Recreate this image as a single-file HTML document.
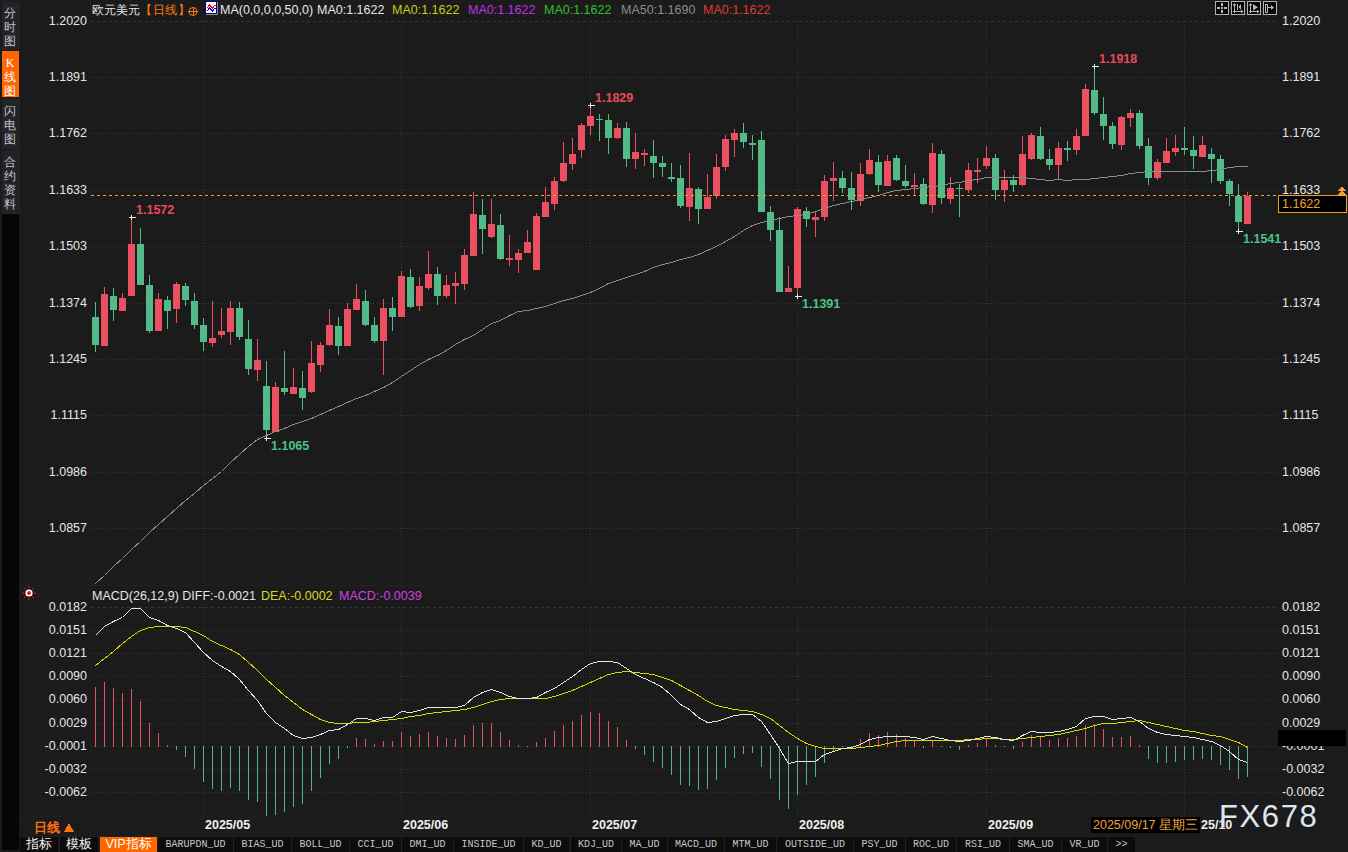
<!DOCTYPE html><html><head><meta charset="utf-8"><style>
html,body{margin:0;padding:0;}
body{width:1348px;height:852px;overflow:hidden;background:#1b1b1b;position:relative;font-family:"Liberation Sans",sans-serif;}
svg{position:absolute;left:0;top:0;}
text{font-family:"Liberation Sans",sans-serif;}
.side{position:absolute;left:2px;width:18px;padding-right:2px;color:#c4c4c4;font-size:12px;line-height:14px;text-align:center;}
.tab{position:absolute;top:836px;height:16px;background:#0c0c0c;color:#c8c8c8;font-family:"Liberation Mono",monospace;font-size:10px;line-height:16px;text-align:center;}
</style></head><body>

<div style="position:absolute;left:2px;top:0;width:18px;height:214px;background:#1c1d21"></div>
<div class="side" style="top:2px;height:47px;background:#22242a;padding-top:4px;box-sizing:border-box">分<br>时<br>图</div>
<div class="side" style="top:51px;height:46px;background:#ff6600;color:#fff;padding-top:5px;box-sizing:border-box;width:17px;padding-right:1px"><span style="font-family:Liberation Serif,serif">K</span><br>线<br>图</div>
<div class="side" style="top:99px;height:50px;background:#22242a;padding-top:5px;box-sizing:border-box">闪<br>电<br>图</div>
<div class="side" style="top:151px;height:63px;background:#22242a;padding-top:4px;box-sizing:border-box">合<br>约<br>资<br>料</div>
<div style="position:absolute;left:2px;top:214px;width:17px;height:636px;background:#060606"></div>
<svg width="1348" height="852" viewBox="0 0 1348 852" shape-rendering="crispEdges">
<rect x="90" y="0" width="1" height="836" fill="#202020"/>

<rect x="20" y="585" width="1328" height="1" fill="#212121"/>
<rect x="20" y="816" width="1328" height="1" fill="#1f1f1f"/>
<line x1="91" y1="21.5" x2="1279" y2="21.5" stroke="#363636" stroke-width="1" stroke-dasharray="3 3"/>
<line x1="91" y1="77.5" x2="1279" y2="77.5" stroke="#363636" stroke-width="1" stroke-dasharray="1 2"/>
<line x1="91" y1="133.5" x2="1279" y2="133.5" stroke="#363636" stroke-width="1" stroke-dasharray="1 2"/>
<line x1="91" y1="190.5" x2="1279" y2="190.5" stroke="#363636" stroke-width="1" stroke-dasharray="1 2"/>
<line x1="91" y1="246.5" x2="1279" y2="246.5" stroke="#363636" stroke-width="1" stroke-dasharray="1 2"/>
<line x1="91" y1="303.5" x2="1279" y2="303.5" stroke="#363636" stroke-width="1" stroke-dasharray="1 2"/>
<line x1="91" y1="359.5" x2="1279" y2="359.5" stroke="#363636" stroke-width="1" stroke-dasharray="1 2"/>
<line x1="91" y1="415.5" x2="1279" y2="415.5" stroke="#363636" stroke-width="1" stroke-dasharray="1 2"/>
<line x1="91" y1="472.5" x2="1279" y2="472.5" stroke="#363636" stroke-width="1" stroke-dasharray="1 2"/>
<line x1="91" y1="528.5" x2="1279" y2="528.5" stroke="#363636" stroke-width="1" stroke-dasharray="1 2"/>
<line x1="203.5" y1="21" x2="203.5" y2="584" stroke="#363636" stroke-width="1" stroke-dasharray="1 2"/>
<line x1="203.5" y1="607" x2="203.5" y2="815" stroke="#363636" stroke-width="1" stroke-dasharray="1 2"/>
<line x1="401.5" y1="21" x2="401.5" y2="584" stroke="#363636" stroke-width="1" stroke-dasharray="1 2"/>
<line x1="401.5" y1="607" x2="401.5" y2="815" stroke="#363636" stroke-width="1" stroke-dasharray="1 2"/>
<line x1="590.5" y1="21" x2="590.5" y2="584" stroke="#363636" stroke-width="1" stroke-dasharray="1 2"/>
<line x1="590.5" y1="607" x2="590.5" y2="815" stroke="#363636" stroke-width="1" stroke-dasharray="1 2"/>
<line x1="797.5" y1="21" x2="797.5" y2="584" stroke="#363636" stroke-width="1" stroke-dasharray="1 2"/>
<line x1="797.5" y1="607" x2="797.5" y2="815" stroke="#363636" stroke-width="1" stroke-dasharray="1 2"/>
<line x1="986.5" y1="21" x2="986.5" y2="584" stroke="#363636" stroke-width="1" stroke-dasharray="1 2"/>
<line x1="986.5" y1="607" x2="986.5" y2="815" stroke="#363636" stroke-width="1" stroke-dasharray="1 2"/>
<line x1="1184.5" y1="21" x2="1184.5" y2="584" stroke="#363636" stroke-width="1" stroke-dasharray="1 2"/>
<line x1="1184.5" y1="607" x2="1184.5" y2="815" stroke="#363636" stroke-width="1" stroke-dasharray="1 2"/>
<line x1="91" y1="607.5" x2="1279" y2="607.5" stroke="#363636" stroke-width="1" stroke-dasharray="3 3"/>
<line x1="91" y1="630.5" x2="1279" y2="630.5" stroke="#363636" stroke-width="1" stroke-dasharray="1 2"/>
<line x1="91" y1="653.5" x2="1279" y2="653.5" stroke="#363636" stroke-width="1" stroke-dasharray="1 2"/>
<line x1="91" y1="676.5" x2="1279" y2="676.5" stroke="#363636" stroke-width="1" stroke-dasharray="1 2"/>
<line x1="91" y1="699.5" x2="1279" y2="699.5" stroke="#363636" stroke-width="1" stroke-dasharray="1 2"/>
<line x1="91" y1="723.5" x2="1279" y2="723.5" stroke="#363636" stroke-width="1" stroke-dasharray="1 2"/>
<line x1="91" y1="746.5" x2="1279" y2="746.5" stroke="#363636" stroke-width="1" stroke-dasharray="1 2"/>
<line x1="91" y1="769.5" x2="1279" y2="769.5" stroke="#363636" stroke-width="1" stroke-dasharray="1 2"/>
<line x1="91" y1="792.5" x2="1279" y2="792.5" stroke="#363636" stroke-width="1" stroke-dasharray="1 2"/>
<rect x="95" y="302" width="1" height="50" fill="#52bb88"/>
<rect x="92" y="317" width="7" height="28" fill="#52bb88"/>
<rect x="104" y="287" width="1" height="59" fill="#ea5060"/>
<rect x="101" y="294" width="7" height="52" fill="#ea5060"/>
<rect x="113" y="288" width="1" height="33" fill="#52bb88"/>
<rect x="110" y="296" width="7" height="14" fill="#52bb88"/>
<rect x="122" y="293" width="1" height="18" fill="#ea5060"/>
<rect x="119" y="298" width="7" height="13" fill="#ea5060"/>
<rect x="131" y="217" width="1" height="79" fill="#ea5060"/>
<rect x="128" y="244" width="7" height="52" fill="#ea5060"/>
<rect x="140" y="228" width="1" height="57" fill="#52bb88"/>
<rect x="137" y="244" width="7" height="41" fill="#52bb88"/>
<rect x="149" y="275" width="1" height="58" fill="#52bb88"/>
<rect x="146" y="285" width="7" height="46" fill="#52bb88"/>
<rect x="158" y="293" width="1" height="38" fill="#ea5060"/>
<rect x="155" y="299" width="7" height="32" fill="#ea5060"/>
<rect x="167" y="296" width="1" height="33" fill="#52bb88"/>
<rect x="164" y="300" width="7" height="11" fill="#52bb88"/>
<rect x="176" y="282" width="1" height="41" fill="#ea5060"/>
<rect x="173" y="284" width="7" height="25" fill="#ea5060"/>
<rect x="185" y="283" width="1" height="23" fill="#52bb88"/>
<rect x="182" y="286" width="7" height="14" fill="#52bb88"/>
<rect x="194" y="293" width="1" height="36" fill="#52bb88"/>
<rect x="191" y="301" width="7" height="24" fill="#52bb88"/>
<rect x="203" y="318" width="1" height="33" fill="#52bb88"/>
<rect x="200" y="325" width="7" height="17" fill="#52bb88"/>
<rect x="212" y="301" width="1" height="46" fill="#ea5060"/>
<rect x="209" y="338" width="7" height="5" fill="#ea5060"/>
<rect x="221" y="308" width="1" height="30" fill="#ea5060"/>
<rect x="218" y="331" width="7" height="4" fill="#ea5060"/>
<rect x="230" y="301" width="1" height="44" fill="#ea5060"/>
<rect x="227" y="308" width="7" height="24" fill="#ea5060"/>
<rect x="239" y="302" width="1" height="38" fill="#52bb88"/>
<rect x="236" y="308" width="7" height="29" fill="#52bb88"/>
<rect x="248" y="320" width="1" height="55" fill="#52bb88"/>
<rect x="245" y="339" width="7" height="30" fill="#52bb88"/>
<rect x="257" y="339" width="1" height="42" fill="#ea5060"/>
<rect x="254" y="360" width="7" height="10" fill="#ea5060"/>
<rect x="266" y="361" width="1" height="76" fill="#52bb88"/>
<rect x="263" y="386" width="7" height="44" fill="#52bb88"/>
<rect x="275" y="382" width="1" height="50" fill="#ea5060"/>
<rect x="272" y="387" width="7" height="45" fill="#ea5060"/>
<rect x="284" y="351" width="1" height="44" fill="#52bb88"/>
<rect x="281" y="388" width="7" height="4" fill="#52bb88"/>
<rect x="293" y="368" width="1" height="26" fill="#ea5060"/>
<rect x="290" y="387" width="7" height="7" fill="#ea5060"/>
<rect x="302" y="371" width="1" height="39" fill="#52bb88"/>
<rect x="299" y="388" width="7" height="10" fill="#52bb88"/>
<rect x="311" y="341" width="1" height="52" fill="#ea5060"/>
<rect x="308" y="363" width="7" height="29" fill="#ea5060"/>
<rect x="320" y="342" width="1" height="30" fill="#ea5060"/>
<rect x="317" y="345" width="7" height="20" fill="#ea5060"/>
<rect x="329" y="309" width="1" height="37" fill="#ea5060"/>
<rect x="326" y="325" width="7" height="20" fill="#ea5060"/>
<rect x="338" y="317" width="1" height="38" fill="#52bb88"/>
<rect x="335" y="326" width="7" height="20" fill="#52bb88"/>
<rect x="347" y="303" width="1" height="43" fill="#ea5060"/>
<rect x="344" y="309" width="7" height="37" fill="#ea5060"/>
<rect x="356" y="284" width="1" height="26" fill="#ea5060"/>
<rect x="353" y="299" width="7" height="11" fill="#ea5060"/>
<rect x="365" y="290" width="1" height="36" fill="#52bb88"/>
<rect x="362" y="301" width="7" height="24" fill="#52bb88"/>
<rect x="374" y="317" width="1" height="26" fill="#52bb88"/>
<rect x="371" y="325" width="7" height="16" fill="#52bb88"/>
<rect x="383" y="299" width="1" height="76" fill="#ea5060"/>
<rect x="380" y="308" width="7" height="33" fill="#ea5060"/>
<rect x="392" y="297" width="1" height="34" fill="#52bb88"/>
<rect x="389" y="308" width="7" height="9" fill="#52bb88"/>
<rect x="401" y="271" width="1" height="46" fill="#ea5060"/>
<rect x="398" y="276" width="7" height="41" fill="#ea5060"/>
<rect x="410" y="269" width="1" height="39" fill="#52bb88"/>
<rect x="407" y="277" width="7" height="30" fill="#52bb88"/>
<rect x="419" y="277" width="1" height="34" fill="#ea5060"/>
<rect x="416" y="286" width="7" height="20" fill="#ea5060"/>
<rect x="428" y="251" width="1" height="39" fill="#ea5060"/>
<rect x="425" y="274" width="7" height="14" fill="#ea5060"/>
<rect x="437" y="267" width="1" height="38" fill="#52bb88"/>
<rect x="434" y="274" width="7" height="22" fill="#52bb88"/>
<rect x="446" y="275" width="1" height="23" fill="#ea5060"/>
<rect x="443" y="285" width="7" height="11" fill="#ea5060"/>
<rect x="455" y="272" width="1" height="32" fill="#ea5060"/>
<rect x="452" y="283" width="7" height="3" fill="#ea5060"/>
<rect x="464" y="249" width="1" height="41" fill="#ea5060"/>
<rect x="461" y="255" width="7" height="29" fill="#ea5060"/>
<rect x="473" y="192" width="1" height="64" fill="#ea5060"/>
<rect x="470" y="214" width="7" height="42" fill="#ea5060"/>
<rect x="482" y="199" width="1" height="55" fill="#52bb88"/>
<rect x="479" y="215" width="7" height="14" fill="#52bb88"/>
<rect x="491" y="199" width="1" height="39" fill="#ea5060"/>
<rect x="488" y="224" width="7" height="13" fill="#ea5060"/>
<rect x="500" y="214" width="1" height="46" fill="#52bb88"/>
<rect x="497" y="225" width="7" height="34" fill="#52bb88"/>
<rect x="509" y="235" width="1" height="31" fill="#ea5060"/>
<rect x="506" y="258" width="7" height="2" fill="#ea5060"/>
<rect x="518" y="249" width="1" height="24" fill="#ea5060"/>
<rect x="515" y="253" width="7" height="7" fill="#ea5060"/>
<rect x="527" y="230" width="1" height="23" fill="#ea5060"/>
<rect x="524" y="242" width="7" height="11" fill="#ea5060"/>
<rect x="536" y="213" width="1" height="57" fill="#ea5060"/>
<rect x="533" y="216" width="7" height="54" fill="#ea5060"/>
<rect x="545" y="187" width="1" height="30" fill="#ea5060"/>
<rect x="542" y="202" width="7" height="15" fill="#ea5060"/>
<rect x="554" y="177" width="1" height="33" fill="#ea5060"/>
<rect x="551" y="181" width="7" height="23" fill="#ea5060"/>
<rect x="563" y="142" width="1" height="40" fill="#ea5060"/>
<rect x="560" y="163" width="7" height="18" fill="#ea5060"/>
<rect x="572" y="138" width="1" height="32" fill="#ea5060"/>
<rect x="569" y="154" width="7" height="10" fill="#ea5060"/>
<rect x="581" y="123" width="1" height="35" fill="#ea5060"/>
<rect x="578" y="125" width="7" height="25" fill="#ea5060"/>
<rect x="590" y="104" width="1" height="31" fill="#ea5060"/>
<rect x="587" y="116" width="7" height="10" fill="#ea5060"/>
<rect x="599" y="114" width="1" height="27" fill="#52bb88"/>
<rect x="596" y="119" width="7" height="1" fill="#52bb88"/>
<rect x="608" y="114" width="1" height="40" fill="#52bb88"/>
<rect x="605" y="120" width="7" height="18" fill="#52bb88"/>
<rect x="617" y="123" width="1" height="16" fill="#ea5060"/>
<rect x="614" y="128" width="7" height="10" fill="#ea5060"/>
<rect x="626" y="122" width="1" height="45" fill="#52bb88"/>
<rect x="623" y="128" width="7" height="31" fill="#52bb88"/>
<rect x="635" y="133" width="1" height="36" fill="#ea5060"/>
<rect x="632" y="152" width="7" height="7" fill="#ea5060"/>
<rect x="644" y="149" width="1" height="17" fill="#ea5060"/>
<rect x="641" y="153" width="7" height="2" fill="#ea5060"/>
<rect x="653" y="140" width="1" height="38" fill="#52bb88"/>
<rect x="650" y="156" width="7" height="7" fill="#52bb88"/>
<rect x="662" y="156" width="1" height="21" fill="#52bb88"/>
<rect x="659" y="163" width="7" height="4" fill="#52bb88"/>
<rect x="671" y="163" width="1" height="19" fill="#52bb88"/>
<rect x="668" y="177" width="7" height="2" fill="#52bb88"/>
<rect x="680" y="165" width="1" height="43" fill="#52bb88"/>
<rect x="677" y="178" width="7" height="28" fill="#52bb88"/>
<rect x="689" y="153" width="1" height="68" fill="#ea5060"/>
<rect x="686" y="188" width="7" height="19" fill="#ea5060"/>
<rect x="698" y="187" width="1" height="37" fill="#52bb88"/>
<rect x="695" y="189" width="7" height="20" fill="#52bb88"/>
<rect x="707" y="174" width="1" height="35" fill="#ea5060"/>
<rect x="704" y="197" width="7" height="12" fill="#ea5060"/>
<rect x="716" y="154" width="1" height="45" fill="#ea5060"/>
<rect x="713" y="167" width="7" height="29" fill="#ea5060"/>
<rect x="725" y="135" width="1" height="36" fill="#ea5060"/>
<rect x="722" y="139" width="7" height="28" fill="#ea5060"/>
<rect x="734" y="129" width="1" height="28" fill="#ea5060"/>
<rect x="731" y="133" width="7" height="7" fill="#ea5060"/>
<rect x="743" y="123" width="1" height="25" fill="#52bb88"/>
<rect x="740" y="133" width="7" height="9" fill="#52bb88"/>
<rect x="752" y="135" width="1" height="25" fill="#52bb88"/>
<rect x="749" y="143" width="7" height="2" fill="#52bb88"/>
<rect x="761" y="131" width="1" height="81" fill="#52bb88"/>
<rect x="758" y="140" width="7" height="72" fill="#52bb88"/>
<rect x="770" y="206" width="1" height="35" fill="#52bb88"/>
<rect x="767" y="212" width="7" height="18" fill="#52bb88"/>
<rect x="779" y="217" width="1" height="75" fill="#52bb88"/>
<rect x="776" y="230" width="7" height="62" fill="#52bb88"/>
<rect x="788" y="266" width="1" height="26" fill="#ea5060"/>
<rect x="785" y="288" width="7" height="4" fill="#ea5060"/>
<rect x="797" y="207" width="1" height="89" fill="#ea5060"/>
<rect x="794" y="209" width="7" height="79" fill="#ea5060"/>
<rect x="806" y="207" width="1" height="20" fill="#52bb88"/>
<rect x="803" y="211" width="7" height="8" fill="#52bb88"/>
<rect x="815" y="212" width="1" height="25" fill="#ea5060"/>
<rect x="812" y="217" width="7" height="3" fill="#ea5060"/>
<rect x="824" y="175" width="1" height="46" fill="#ea5060"/>
<rect x="821" y="181" width="7" height="36" fill="#ea5060"/>
<rect x="833" y="162" width="1" height="39" fill="#ea5060"/>
<rect x="830" y="178" width="7" height="3" fill="#ea5060"/>
<rect x="842" y="171" width="1" height="22" fill="#52bb88"/>
<rect x="839" y="178" width="7" height="10" fill="#52bb88"/>
<rect x="851" y="172" width="1" height="38" fill="#52bb88"/>
<rect x="848" y="188" width="7" height="12" fill="#52bb88"/>
<rect x="860" y="163" width="1" height="43" fill="#ea5060"/>
<rect x="857" y="174" width="7" height="27" fill="#ea5060"/>
<rect x="869" y="149" width="1" height="26" fill="#ea5060"/>
<rect x="866" y="160" width="7" height="14" fill="#ea5060"/>
<rect x="878" y="155" width="1" height="37" fill="#52bb88"/>
<rect x="875" y="162" width="7" height="23" fill="#52bb88"/>
<rect x="887" y="155" width="1" height="31" fill="#ea5060"/>
<rect x="884" y="161" width="7" height="25" fill="#ea5060"/>
<rect x="896" y="155" width="1" height="26" fill="#52bb88"/>
<rect x="893" y="158" width="7" height="22" fill="#52bb88"/>
<rect x="905" y="165" width="1" height="23" fill="#52bb88"/>
<rect x="902" y="181" width="7" height="5" fill="#52bb88"/>
<rect x="914" y="173" width="1" height="23" fill="#ea5060"/>
<rect x="911" y="185" width="7" height="2" fill="#ea5060"/>
<rect x="923" y="178" width="1" height="27" fill="#52bb88"/>
<rect x="920" y="184" width="7" height="20" fill="#52bb88"/>
<rect x="932" y="143" width="1" height="70" fill="#ea5060"/>
<rect x="929" y="153" width="7" height="52" fill="#ea5060"/>
<rect x="941" y="150" width="1" height="54" fill="#52bb88"/>
<rect x="938" y="154" width="7" height="44" fill="#52bb88"/>
<rect x="950" y="177" width="1" height="27" fill="#ea5060"/>
<rect x="947" y="188" width="7" height="11" fill="#ea5060"/>
<rect x="959" y="184" width="1" height="33" fill="#52bb88"/>
<rect x="956" y="188" width="7" height="1" fill="#52bb88"/>
<rect x="968" y="163" width="1" height="30" fill="#ea5060"/>
<rect x="965" y="170" width="7" height="20" fill="#ea5060"/>
<rect x="977" y="158" width="1" height="25" fill="#ea5060"/>
<rect x="974" y="170" width="7" height="2" fill="#ea5060"/>
<rect x="986" y="146" width="1" height="23" fill="#ea5060"/>
<rect x="983" y="158" width="7" height="8" fill="#ea5060"/>
<rect x="995" y="154" width="1" height="46" fill="#52bb88"/>
<rect x="992" y="158" width="7" height="32" fill="#52bb88"/>
<rect x="1004" y="170" width="1" height="32" fill="#ea5060"/>
<rect x="1001" y="180" width="7" height="10" fill="#ea5060"/>
<rect x="1013" y="175" width="1" height="17" fill="#52bb88"/>
<rect x="1010" y="180" width="7" height="5" fill="#52bb88"/>
<rect x="1022" y="136" width="1" height="50" fill="#ea5060"/>
<rect x="1019" y="154" width="7" height="31" fill="#ea5060"/>
<rect x="1031" y="133" width="1" height="27" fill="#ea5060"/>
<rect x="1028" y="135" width="7" height="24" fill="#ea5060"/>
<rect x="1040" y="127" width="1" height="33" fill="#52bb88"/>
<rect x="1037" y="136" width="7" height="23" fill="#52bb88"/>
<rect x="1049" y="149" width="1" height="21" fill="#52bb88"/>
<rect x="1046" y="159" width="7" height="6" fill="#52bb88"/>
<rect x="1058" y="142" width="1" height="38" fill="#ea5060"/>
<rect x="1055" y="148" width="7" height="17" fill="#ea5060"/>
<rect x="1067" y="141" width="1" height="20" fill="#52bb88"/>
<rect x="1064" y="148" width="7" height="2" fill="#52bb88"/>
<rect x="1076" y="129" width="1" height="26" fill="#ea5060"/>
<rect x="1073" y="136" width="7" height="14" fill="#ea5060"/>
<rect x="1085" y="84" width="1" height="52" fill="#ea5060"/>
<rect x="1082" y="89" width="7" height="47" fill="#ea5060"/>
<rect x="1094" y="66" width="1" height="49" fill="#52bb88"/>
<rect x="1091" y="90" width="7" height="23" fill="#52bb88"/>
<rect x="1103" y="97" width="1" height="43" fill="#52bb88"/>
<rect x="1100" y="114" width="7" height="12" fill="#52bb88"/>
<rect x="1112" y="122" width="1" height="27" fill="#52bb88"/>
<rect x="1109" y="126" width="7" height="18" fill="#52bb88"/>
<rect x="1121" y="116" width="1" height="34" fill="#ea5060"/>
<rect x="1118" y="117" width="7" height="28" fill="#ea5060"/>
<rect x="1130" y="109" width="1" height="18" fill="#ea5060"/>
<rect x="1127" y="113" width="7" height="5" fill="#ea5060"/>
<rect x="1139" y="110" width="1" height="39" fill="#52bb88"/>
<rect x="1136" y="113" width="7" height="33" fill="#52bb88"/>
<rect x="1148" y="138" width="1" height="47" fill="#52bb88"/>
<rect x="1145" y="146" width="7" height="32" fill="#52bb88"/>
<rect x="1157" y="159" width="1" height="21" fill="#ea5060"/>
<rect x="1154" y="162" width="7" height="16" fill="#ea5060"/>
<rect x="1166" y="138" width="1" height="25" fill="#ea5060"/>
<rect x="1163" y="151" width="7" height="12" fill="#ea5060"/>
<rect x="1175" y="135" width="1" height="21" fill="#ea5060"/>
<rect x="1172" y="148" width="7" height="4" fill="#ea5060"/>
<rect x="1184" y="127" width="1" height="28" fill="#52bb88"/>
<rect x="1181" y="148" width="7" height="2" fill="#52bb88"/>
<rect x="1193" y="136" width="1" height="33" fill="#52bb88"/>
<rect x="1190" y="150" width="7" height="6" fill="#52bb88"/>
<rect x="1202" y="136" width="1" height="21" fill="#ea5060"/>
<rect x="1199" y="145" width="7" height="12" fill="#ea5060"/>
<rect x="1211" y="148" width="1" height="35" fill="#52bb88"/>
<rect x="1208" y="154" width="7" height="5" fill="#52bb88"/>
<rect x="1220" y="155" width="1" height="29" fill="#52bb88"/>
<rect x="1217" y="159" width="7" height="22" fill="#52bb88"/>
<rect x="1229" y="179" width="1" height="27" fill="#52bb88"/>
<rect x="1226" y="181" width="7" height="13" fill="#52bb88"/>
<rect x="1238" y="184" width="1" height="47" fill="#52bb88"/>
<rect x="1235" y="196" width="7" height="26" fill="#52bb88"/>
<rect x="1247" y="192" width="1" height="32" fill="#ea5060"/>
<rect x="1244" y="196" width="7" height="28" fill="#ea5060"/>
<polyline points="95.5,583.5 104.5,575.5 113.5,566.5 122.5,558.5 131.5,549.5 140.5,541.5 149.5,532.5 158.5,524.5 167.5,516.5 176.5,508.5 185.5,500.5 194.5,493.5 203.5,485.5 212.5,478.5 221.5,471.5 230.5,462.5 239.5,454.5 248.5,446.5 257.5,439.5 266.5,435.5 275.5,431.5 284.5,428.5 293.5,424.5 302.5,421.5 311.5,418.5 320.5,414.5 329.5,410.5 338.5,406.5 347.5,402.5 356.5,398.5 365.5,395.5 374.5,391.5 383.5,387.5 392.5,382.5 401.5,376.5 410.5,370.5 419.5,364.5 428.5,359.5 437.5,355.5 446.5,350.5 455.5,344.5 464.5,339.5 473.5,335.5 482.5,329.5 491.5,323.5 500.5,320.5 509.5,315.5 518.5,311.5 527.5,310.5 536.5,308.5 545.5,306.5 554.5,303.5 563.5,300.5 572.5,298.5 581.5,295.5 590.5,292.5 599.5,288.5 608.5,283.5 617.5,280.5 626.5,277.5 635.5,274.5 644.5,271.5 653.5,267.5 662.5,264.5 671.5,262.5 680.5,259.5 689.5,257.5 698.5,254.5 707.5,250.5 716.5,246.5 725.5,241.5 734.5,236.5 743.5,230.5 752.5,225.5 761.5,222.5 770.5,220.5 779.5,218.5 788.5,216.5 797.5,215.5 806.5,214.5 815.5,211.5 824.5,208.5 833.5,205.5 842.5,203.5 851.5,201.5 860.5,199.5 869.5,197.5 878.5,195.5 887.5,192.5 896.5,190.5 905.5,189.5 914.5,188.5 923.5,187.5 932.5,186.5 941.5,185.5 950.5,183.5 959.5,182.5 968.5,180.5 977.5,179.5 986.5,177.5 995.5,177.5 1004.5,177.5 1013.5,177.5 1022.5,177.5 1031.5,178.5 1040.5,179.5 1049.5,180.5 1058.5,179.5 1067.5,180.5 1076.5,179.5 1085.5,179.5 1094.5,178.5 1103.5,177.5 1112.5,176.5 1121.5,175.5 1130.5,173.5 1139.5,172.5 1148.5,171.5 1157.5,171.5 1166.5,171.5 1175.5,171.5 1184.5,171.5 1193.5,171.5 1202.5,171.5 1211.5,170.5 1220.5,169.5 1229.5,167.5 1238.5,166.5 1247.5,166.5" fill="none" stroke="#8c8c8c" stroke-width="1" shape-rendering="crispEdges"/>
<line x1="91" y1="195.5" x2="1278" y2="195.5" stroke="#f0a030" stroke-width="1" stroke-dasharray="3 3"/>
<rect x="129" y="217" width="7" height="1" fill="#eee"/>
<rect x="131" y="215" width="1" height="5" fill="#eee"/>
<text x="136" y="214" fill="#e84a5a" font-size="12.5" font-weight="bold">1.1572</text>
<rect x="588" y="105" width="7" height="1" fill="#eee"/>
<rect x="590" y="103" width="1" height="5" fill="#eee"/>
<text x="595" y="102" fill="#e84a5a" font-size="12.5" font-weight="bold">1.1829</text>
<rect x="1092" y="66" width="7" height="1" fill="#eee"/>
<rect x="1094" y="64" width="1" height="5" fill="#eee"/>
<text x="1099" y="63" fill="#e84a5a" font-size="12.5" font-weight="bold">1.1918</text>
<rect x="264" y="438" width="7" height="1" fill="#eee"/>
<rect x="266" y="436" width="1" height="5" fill="#eee"/>
<text x="271" y="450" fill="#4cc38a" font-size="12.5" font-weight="bold">1.1065</text>
<rect x="795" y="296" width="7" height="1" fill="#eee"/>
<rect x="797" y="294" width="1" height="5" fill="#eee"/>
<text x="802" y="308" fill="#4cc38a" font-size="12.5" font-weight="bold">1.1391</text>
<rect x="1236" y="231" width="7" height="1" fill="#eee"/>
<rect x="1238" y="229" width="1" height="5" fill="#eee"/>
<text x="1243" y="243" fill="#4cc38a" font-size="12.5" font-weight="bold">1.1541</text>
<rect x="95" y="687" width="1" height="60" fill="#e25363"/>
<rect x="104" y="682" width="1" height="65" fill="#e25363"/>
<rect x="113" y="688" width="1" height="59" fill="#e25363"/>
<rect x="122" y="693" width="1" height="54" fill="#e25363"/>
<rect x="131" y="689" width="1" height="58" fill="#e25363"/>
<rect x="140" y="701" width="1" height="46" fill="#e25363"/>
<rect x="149" y="723" width="1" height="24" fill="#e25363"/>
<rect x="158" y="733" width="1" height="14" fill="#e25363"/>
<rect x="167" y="745" width="1" height="2" fill="#e25363"/>
<rect x="176" y="746" width="1" height="4" fill="#4fb585"/>
<rect x="185" y="746" width="1" height="11" fill="#4fb585"/>
<rect x="194" y="746" width="1" height="23" fill="#4fb585"/>
<rect x="203" y="746" width="1" height="36" fill="#4fb585"/>
<rect x="212" y="746" width="1" height="43" fill="#4fb585"/>
<rect x="221" y="746" width="1" height="45" fill="#4fb585"/>
<rect x="230" y="746" width="1" height="42" fill="#4fb585"/>
<rect x="239" y="746" width="1" height="45" fill="#4fb585"/>
<rect x="248" y="746" width="1" height="54" fill="#4fb585"/>
<rect x="257" y="746" width="1" height="56" fill="#4fb585"/>
<rect x="266" y="746" width="1" height="70" fill="#4fb585"/>
<rect x="275" y="746" width="1" height="69" fill="#4fb585"/>
<rect x="284" y="746" width="1" height="66" fill="#4fb585"/>
<rect x="293" y="746" width="1" height="61" fill="#4fb585"/>
<rect x="302" y="746" width="1" height="58" fill="#4fb585"/>
<rect x="311" y="746" width="1" height="45" fill="#4fb585"/>
<rect x="320" y="746" width="1" height="32" fill="#4fb585"/>
<rect x="329" y="746" width="1" height="18" fill="#4fb585"/>
<rect x="338" y="746" width="1" height="13" fill="#4fb585"/>
<rect x="347" y="746" width="1" height="2" fill="#4fb585"/>
<rect x="356" y="738" width="1" height="9" fill="#e25363"/>
<rect x="365" y="739" width="1" height="8" fill="#e25363"/>
<rect x="374" y="744" width="1" height="3" fill="#e25363"/>
<rect x="383" y="741" width="1" height="6" fill="#e25363"/>
<rect x="392" y="741" width="1" height="6" fill="#e25363"/>
<rect x="401" y="732" width="1" height="15" fill="#e25363"/>
<rect x="410" y="736" width="1" height="11" fill="#e25363"/>
<rect x="419" y="734" width="1" height="13" fill="#e25363"/>
<rect x="428" y="732" width="1" height="15" fill="#e25363"/>
<rect x="437" y="736" width="1" height="11" fill="#e25363"/>
<rect x="446" y="738" width="1" height="9" fill="#e25363"/>
<rect x="455" y="739" width="1" height="8" fill="#e25363"/>
<rect x="464" y="735" width="1" height="12" fill="#e25363"/>
<rect x="473" y="725" width="1" height="22" fill="#e25363"/>
<rect x="482" y="723" width="1" height="24" fill="#e25363"/>
<rect x="491" y="723" width="1" height="24" fill="#e25363"/>
<rect x="500" y="732" width="1" height="15" fill="#e25363"/>
<rect x="509" y="740" width="1" height="7" fill="#e25363"/>
<rect x="518" y="745" width="1" height="2" fill="#e25363"/>
<rect x="527" y="746" width="1" height="1" fill="#4fb585"/>
<rect x="536" y="742" width="1" height="5" fill="#e25363"/>
<rect x="545" y="738" width="1" height="9" fill="#e25363"/>
<rect x="554" y="731" width="1" height="16" fill="#e25363"/>
<rect x="563" y="725" width="1" height="22" fill="#e25363"/>
<rect x="572" y="721" width="1" height="26" fill="#e25363"/>
<rect x="581" y="715" width="1" height="32" fill="#e25363"/>
<rect x="590" y="712" width="1" height="35" fill="#e25363"/>
<rect x="599" y="713" width="1" height="34" fill="#e25363"/>
<rect x="608" y="721" width="1" height="26" fill="#e25363"/>
<rect x="617" y="727" width="1" height="20" fill="#e25363"/>
<rect x="626" y="740" width="1" height="7" fill="#e25363"/>
<rect x="635" y="746" width="1" height="3" fill="#4fb585"/>
<rect x="644" y="746" width="1" height="9" fill="#4fb585"/>
<rect x="653" y="746" width="1" height="16" fill="#4fb585"/>
<rect x="662" y="746" width="1" height="22" fill="#4fb585"/>
<rect x="671" y="746" width="1" height="29" fill="#4fb585"/>
<rect x="680" y="746" width="1" height="39" fill="#4fb585"/>
<rect x="689" y="746" width="1" height="40" fill="#4fb585"/>
<rect x="698" y="746" width="1" height="44" fill="#4fb585"/>
<rect x="707" y="746" width="1" height="43" fill="#4fb585"/>
<rect x="716" y="746" width="1" height="34" fill="#4fb585"/>
<rect x="725" y="746" width="1" height="22" fill="#4fb585"/>
<rect x="734" y="746" width="1" height="12" fill="#4fb585"/>
<rect x="743" y="746" width="1" height="8" fill="#4fb585"/>
<rect x="752" y="746" width="1" height="7" fill="#4fb585"/>
<rect x="761" y="746" width="1" height="21" fill="#4fb585"/>
<rect x="770" y="746" width="1" height="33" fill="#4fb585"/>
<rect x="779" y="746" width="1" height="54" fill="#4fb585"/>
<rect x="788" y="746" width="1" height="63" fill="#4fb585"/>
<rect x="797" y="746" width="1" height="49" fill="#4fb585"/>
<rect x="806" y="746" width="1" height="39" fill="#4fb585"/>
<rect x="815" y="746" width="1" height="31" fill="#4fb585"/>
<rect x="824" y="746" width="1" height="17" fill="#4fb585"/>
<rect x="833" y="746" width="1" height="5" fill="#4fb585"/>
<rect x="842" y="746" width="1" height="1" fill="#4fb585"/>
<rect x="851" y="746" width="1" height="1" fill="#4fb585"/>
<rect x="860" y="739" width="1" height="8" fill="#e25363"/>
<rect x="869" y="733" width="1" height="14" fill="#e25363"/>
<rect x="878" y="735" width="1" height="12" fill="#e25363"/>
<rect x="887" y="732" width="1" height="15" fill="#e25363"/>
<rect x="896" y="734" width="1" height="13" fill="#e25363"/>
<rect x="905" y="738" width="1" height="9" fill="#e25363"/>
<rect x="914" y="741" width="1" height="6" fill="#e25363"/>
<rect x="923" y="746" width="1" height="2" fill="#4fb585"/>
<rect x="932" y="740" width="1" height="7" fill="#e25363"/>
<rect x="941" y="746" width="1" height="1" fill="#4fb585"/>
<rect x="950" y="746" width="1" height="2" fill="#4fb585"/>
<rect x="959" y="746" width="1" height="4" fill="#4fb585"/>
<rect x="968" y="745" width="1" height="2" fill="#e25363"/>
<rect x="977" y="743" width="1" height="4" fill="#e25363"/>
<rect x="986" y="738" width="1" height="9" fill="#e25363"/>
<rect x="995" y="745" width="1" height="2" fill="#e25363"/>
<rect x="1004" y="746" width="1" height="1" fill="#4fb585"/>
<rect x="1013" y="746" width="1" height="3" fill="#4fb585"/>
<rect x="1022" y="742" width="1" height="5" fill="#e25363"/>
<rect x="1031" y="735" width="1" height="12" fill="#e25363"/>
<rect x="1040" y="736" width="1" height="11" fill="#e25363"/>
<rect x="1049" y="740" width="1" height="7" fill="#e25363"/>
<rect x="1058" y="738" width="1" height="9" fill="#e25363"/>
<rect x="1067" y="738" width="1" height="9" fill="#e25363"/>
<rect x="1076" y="736" width="1" height="11" fill="#e25363"/>
<rect x="1085" y="725" width="1" height="22" fill="#e25363"/>
<rect x="1094" y="724" width="1" height="23" fill="#e25363"/>
<rect x="1103" y="729" width="1" height="18" fill="#e25363"/>
<rect x="1112" y="737" width="1" height="10" fill="#e25363"/>
<rect x="1121" y="737" width="1" height="10" fill="#e25363"/>
<rect x="1130" y="736" width="1" height="11" fill="#e25363"/>
<rect x="1139" y="745" width="1" height="2" fill="#e25363"/>
<rect x="1148" y="746" width="1" height="13" fill="#4fb585"/>
<rect x="1157" y="746" width="1" height="17" fill="#4fb585"/>
<rect x="1166" y="746" width="1" height="17" fill="#4fb585"/>
<rect x="1175" y="746" width="1" height="16" fill="#4fb585"/>
<rect x="1184" y="746" width="1" height="14" fill="#4fb585"/>
<rect x="1193" y="746" width="1" height="14" fill="#4fb585"/>
<rect x="1202" y="746" width="1" height="13" fill="#4fb585"/>
<rect x="1211" y="746" width="1" height="14" fill="#4fb585"/>
<rect x="1220" y="746" width="1" height="19" fill="#4fb585"/>
<rect x="1229" y="746" width="1" height="24" fill="#4fb585"/>
<rect x="1238" y="746" width="1" height="33" fill="#4fb585"/>
<rect x="1247" y="746" width="1" height="31" fill="#4fb585"/>
<polyline points="95.5,665.5 104.5,658.5 113.5,651.5 122.5,643.5 131.5,636.5 140.5,630.5 149.5,627.5 158.5,626.5 167.5,626.5 176.5,626.5 185.5,627.5 194.5,631.5 203.5,635.5 212.5,641.5 221.5,645.5 230.5,649.5 239.5,654.5 248.5,662.5 257.5,670.5 266.5,679.5 275.5,687.5 284.5,695.5 293.5,702.5 302.5,709.5 311.5,714.5 320.5,719.5 329.5,722.5 338.5,723.5 347.5,723.5 356.5,722.5 365.5,722.5 374.5,721.5 383.5,720.5 392.5,719.5 401.5,718.5 410.5,716.5 419.5,715.5 428.5,713.5 437.5,712.5 446.5,711.5 455.5,710.5 464.5,709.5 473.5,707.5 482.5,704.5 491.5,701.5 500.5,699.5 509.5,698.5 518.5,698.5 527.5,698.5 536.5,698.5 545.5,698.5 554.5,696.5 563.5,693.5 572.5,690.5 581.5,686.5 590.5,682.5 599.5,678.5 608.5,674.5 617.5,672.5 626.5,671.5 635.5,672.5 644.5,673.5 653.5,674.5 662.5,677.5 671.5,680.5 680.5,685.5 689.5,690.5 698.5,695.5 707.5,701.5 716.5,705.5 725.5,707.5 734.5,709.5 743.5,710.5 752.5,711.5 761.5,714.5 770.5,718.5 779.5,725.5 788.5,732.5 797.5,738.5 806.5,743.5 815.5,746.5 824.5,748.5 833.5,748.5 842.5,748.5 851.5,748.5 860.5,747.5 869.5,746.5 878.5,745.5 887.5,743.5 896.5,741.5 905.5,740.5 914.5,740.5 923.5,740.5 932.5,740.5 941.5,740.5 950.5,740.5 959.5,740.5 968.5,739.5 977.5,739.5 986.5,738.5 995.5,738.5 1004.5,739.5 1013.5,739.5 1022.5,738.5 1031.5,737.5 1040.5,736.5 1049.5,735.5 1058.5,734.5 1067.5,732.5 1076.5,730.5 1085.5,728.5 1094.5,725.5 1103.5,723.5 1112.5,723.5 1121.5,722.5 1130.5,721.5 1139.5,720.5 1148.5,722.5 1157.5,724.5 1166.5,726.5 1175.5,728.5 1184.5,730.5 1193.5,731.5 1202.5,733.5 1211.5,735.5 1220.5,736.5 1229.5,739.5 1238.5,742.5 1247.5,747.5" fill="none" stroke="#d8d800" stroke-width="1" shape-rendering="crispEdges"/>
<polyline points="95.5,635.5 104.5,626.5 113.5,621.5 122.5,617.5 131.5,608.5 140.5,608.5 149.5,617.5 158.5,620.5 167.5,625.5 176.5,628.5 185.5,632.5 194.5,642.5 203.5,652.5 212.5,660.5 221.5,666.5 230.5,671.5 239.5,679.5 248.5,690.5 257.5,700.5 266.5,713.5 275.5,722.5 284.5,728.5 293.5,735.5 302.5,738.5 311.5,737.5 320.5,734.5 329.5,730.5 338.5,729.5 347.5,724.5 356.5,718.5 365.5,718.5 374.5,720.5 383.5,717.5 392.5,717.5 401.5,711.5 410.5,712.5 419.5,710.5 428.5,707.5 437.5,707.5 446.5,707.5 455.5,707.5 464.5,705.5 473.5,697.5 482.5,692.5 491.5,689.5 500.5,692.5 509.5,696.5 518.5,698.5 527.5,698.5 536.5,697.5 545.5,692.5 554.5,688.5 563.5,682.5 572.5,676.5 581.5,669.5 590.5,663.5 599.5,661.5 608.5,661.5 617.5,662.5 626.5,668.5 635.5,674.5 644.5,678.5 653.5,682.5 662.5,687.5 671.5,695.5 680.5,704.5 689.5,709.5 698.5,717.5 707.5,722.5 716.5,721.5 725.5,718.5 734.5,715.5 743.5,714.5 752.5,714.5 761.5,721.5 770.5,734.5 779.5,748.5 788.5,763.5 797.5,761.5 806.5,761.5 815.5,761.5 824.5,754.5 833.5,751.5 842.5,748.5 851.5,747.5 860.5,744.5 869.5,739.5 878.5,737.5 887.5,736.5 896.5,736.5 905.5,736.5 914.5,737.5 923.5,739.5 932.5,736.5 941.5,738.5 950.5,740.5 959.5,741.5 968.5,740.5 977.5,738.5 986.5,736.5 995.5,737.5 1004.5,739.5 1013.5,740.5 1022.5,735.5 1031.5,731.5 1040.5,732.5 1049.5,732.5 1058.5,731.5 1067.5,729.5 1076.5,726.5 1085.5,718.5 1094.5,716.5 1103.5,716.5 1112.5,719.5 1121.5,718.5 1130.5,717.5 1139.5,721.5 1148.5,728.5 1157.5,732.5 1166.5,734.5 1175.5,735.5 1184.5,736.5 1193.5,737.5 1202.5,739.5 1211.5,741.5 1220.5,745.5 1229.5,751.5 1238.5,759.5 1247.5,762.5" fill="none" stroke="#e4e4e4" stroke-width="1" shape-rendering="crispEdges"/>
<text x="87" y="25" fill="#e6e6e6" font-size="12.5" text-anchor="end">1.2020</text>
<text x="1282" y="25" fill="#e6e6e6" font-size="12.5">1.2020</text>
<text x="87" y="81" fill="#e6e6e6" font-size="12.5" text-anchor="end">1.1891</text>
<text x="1282" y="81" fill="#e6e6e6" font-size="12.5">1.1891</text>
<text x="87" y="137" fill="#e6e6e6" font-size="12.5" text-anchor="end">1.1762</text>
<text x="1282" y="137" fill="#e6e6e6" font-size="12.5">1.1762</text>
<text x="87" y="194" fill="#e6e6e6" font-size="12.5" text-anchor="end">1.1633</text>
<text x="1282" y="194" fill="#e6e6e6" font-size="12.5">1.1633</text>
<text x="87" y="250" fill="#e6e6e6" font-size="12.5" text-anchor="end">1.1503</text>
<text x="1282" y="250" fill="#e6e6e6" font-size="12.5">1.1503</text>
<text x="87" y="307" fill="#e6e6e6" font-size="12.5" text-anchor="end">1.1374</text>
<text x="1282" y="307" fill="#e6e6e6" font-size="12.5">1.1374</text>
<text x="87" y="363" fill="#e6e6e6" font-size="12.5" text-anchor="end">1.1245</text>
<text x="1282" y="363" fill="#e6e6e6" font-size="12.5">1.1245</text>
<text x="87" y="419" fill="#e6e6e6" font-size="12.5" text-anchor="end">1.1115</text>
<text x="1282" y="419" fill="#e6e6e6" font-size="12.5">1.1115</text>
<text x="87" y="476" fill="#e6e6e6" font-size="12.5" text-anchor="end">1.0986</text>
<text x="1282" y="476" fill="#e6e6e6" font-size="12.5">1.0986</text>
<text x="87" y="532" fill="#e6e6e6" font-size="12.5" text-anchor="end">1.0857</text>
<text x="1282" y="532" fill="#e6e6e6" font-size="12.5">1.0857</text>
<text x="87" y="611" fill="#e6e6e6" font-size="12.5" text-anchor="end">0.0182</text>
<text x="1282" y="611" fill="#e6e6e6" font-size="12.5">0.0182</text>
<text x="87" y="634" fill="#e6e6e6" font-size="12.5" text-anchor="end">0.0151</text>
<text x="1282" y="634" fill="#e6e6e6" font-size="12.5">0.0151</text>
<text x="87" y="657" fill="#e6e6e6" font-size="12.5" text-anchor="end">0.0121</text>
<text x="1282" y="657" fill="#e6e6e6" font-size="12.5">0.0121</text>
<text x="87" y="680" fill="#e6e6e6" font-size="12.5" text-anchor="end">0.0090</text>
<text x="1282" y="680" fill="#e6e6e6" font-size="12.5">0.0090</text>
<text x="87" y="703" fill="#e6e6e6" font-size="12.5" text-anchor="end">0.0060</text>
<text x="1282" y="703" fill="#e6e6e6" font-size="12.5">0.0060</text>
<text x="87" y="727" fill="#e6e6e6" font-size="12.5" text-anchor="end">0.0029</text>
<text x="1282" y="727" fill="#e6e6e6" font-size="12.5">0.0029</text>
<text x="87" y="750" fill="#e6e6e6" font-size="12.5" text-anchor="end">-0.0001</text>
<text x="1282" y="750" fill="#e6e6e6" font-size="12.5">-0.0001</text>
<text x="87" y="773" fill="#e6e6e6" font-size="12.5" text-anchor="end">-0.0032</text>
<text x="1282" y="773" fill="#e6e6e6" font-size="12.5">-0.0032</text>
<text x="87" y="796" fill="#e6e6e6" font-size="12.5" text-anchor="end">-0.0062</text>
<text x="1282" y="796" fill="#e6e6e6" font-size="12.5">-0.0062</text>
<rect x="1278" y="730" width="68" height="16" fill="#000"/>
<rect x="1278.5" y="195.5" width="68" height="17" fill="#000" stroke="#f0a030" stroke-width="1"/>
<text x="1282" y="208" fill="#f0a030" font-size="12.5">1.1622</text>
<path d="M1338 191 L1342 186 L1346 191 Z M1338 195 L1342 190 L1346 195 Z" fill="#f0a030"/>
<text x="220" y="14" font-size="12.5" fill="#e6e6e6">MA(0,0,0,0,50,0)</text>
<text x="317" y="14" font-size="12.5" fill="#e6e6e6">MA0:1.1622</text>
<text x="392" y="14" font-size="12.5" fill="#cccc10">MA0:1.1622</text>
<text x="468" y="14" font-size="12.5" fill="#c030e0">MA0:1.1622</text>
<text x="544" y="14" font-size="12.5" fill="#30c030">MA0:1.1622</text>
<text x="621" y="14" font-size="12.5" fill="#8c8c8c">MA50:1.1690</text>
<text x="703" y="14" font-size="12.5" fill="#e03838">MA0:1.1622</text>
<text x="92" y="14" font-size="12" fill="#e6e6e6">欧元美元</text>
<text x="140" y="14" font-size="12" fill="#ff7a10" letter-spacing="0.5">【日线】</text>
<circle cx="193" cy="11.5" r="4" fill="none" stroke="#ff7a10" stroke-width="1" shape-rendering="auto"/><rect x="188" y="11" width="10" height="1" fill="#ff7a10"/><rect x="193" y="7" width="1" height="9" fill="#ff7a10"/>
<rect x="206" y="14" width="12" height="1" fill="#909090"/><rect x="217" y="2" width="1" height="13" fill="#909090"/><rect x="205.5" y="1.5" width="11" height="12" fill="#fff" stroke="#000090"/><polyline points="206.5,8.5 209.5,5 212.5,8 214.5,5.5 216,5.5" fill="none" stroke="#ff0000"/><polyline points="206.5,11.5 209.5,8 212.5,11 214.5,8.5 216,8.5" fill="none" stroke="#0000ff"/>
<rect x="1215.5" y="1.5" width="13" height="13" fill="#050505" stroke="#b4b4b4"/>
<rect x="1231.5" y="1.5" width="13" height="13" fill="#050505" stroke="#b4b4b4"/>
<rect x="1247.5" y="1.5" width="13" height="13" fill="#050505" stroke="#b4b4b4"/>
<rect x="1263.5" y="1.5" width="13" height="13" fill="#050505" stroke="#b4b4b4"/>
<g fill="#b4b4b4"><rect x="1221" y="3" width="2" height="3"/><rect x="1221" y="10" width="2" height="3"/><rect x="1217" y="7" width="3" height="2"/><rect x="1224" y="7" width="3" height="2"/><rect x="1221" y="7" width="2" height="2"/></g>
<g fill="#b4b4b4"><rect x="1234" y="4" width="1" height="9"/><rect x="1233" y="11" width="10" height="1"/><path d="M1234.5 3 L1236.5 5.5 L1232.5 5.5Z M1243.5 11.5 L1241 9.5 L1241 13.5Z M1241 4 L1241 10 L1238.5 7Z" shape-rendering="auto"/><rect x="1237" y="4" width="1" height="6"/></g>
<g fill="#b4b4b4"><rect x="1250" y="4" width="1" height="9"/><rect x="1249" y="11" width="10" height="1"/><path d="M1250.5 3 L1252.5 5.5 L1248.5 5.5Z M1259.5 11.5 L1257 9.5 L1257 13.5Z M1253 4 L1253 10.5 L1258 7.3Z" shape-rendering="auto"/></g>
<g fill="#b4b4b4"><rect x="1265.5" y="4.5" width="2" height="8" fill="none" stroke="#b4b4b4"/><path d="M1268 7 h3 v-2 l3 2.5 l-3 2.5 v-2 h-3z" shape-rendering="auto"/></g>
<circle cx="29" cy="593" r="3.6" fill="#fff" shape-rendering="auto"/><circle cx="29" cy="593" r="2" fill="#ff1010" shape-rendering="auto"/>
<g stroke="#ff1010" stroke-width="1" shape-rendering="auto"><line x1="29" y1="586" x2="29" y2="588"/><line x1="29" y1="598" x2="29" y2="600"/><line x1="22" y1="593" x2="24" y2="593"/><line x1="34" y1="593" x2="36" y2="593"/><line x1="24" y1="588" x2="25.5" y2="589.5"/><line x1="32.5" y1="596.5" x2="34" y2="598"/><line x1="34" y1="588" x2="32.5" y2="589.5"/><line x1="24" y1="598" x2="25.5" y2="596.5"/></g>
<text x="92" y="600" font-size="12.5" fill="#e6e6e6">MACD(26,12,9) DIFF:-0.0021</text>
<text x="261" y="600" font-size="12.5" fill="#d8d820">DEA:-0.0002</text>
<text x="339" y="600" font-size="12.5" fill="#d040e0">MACD:-0.0039</text>
<text x="205" y="829" font-size="12.5" font-weight="bold" fill="#f0f0f0">2025/05</text>
<text x="403" y="829" font-size="12.5" font-weight="bold" fill="#f0f0f0">2025/06</text>
<text x="592" y="829" font-size="12.5" font-weight="bold" fill="#f0f0f0">2025/07</text>
<text x="799" y="829" font-size="12.5" font-weight="bold" fill="#f0f0f0">2025/08</text>
<text x="988" y="829" font-size="12.5" font-weight="bold" fill="#f0f0f0">2025/09</text>
<text x="1201" y="829" font-size="12.5" font-weight="bold" fill="#f0f0f0">25/10</text>
<rect x="1091" y="817" width="109" height="16" fill="#000"/>
<text x="1093" y="829" font-size="12.5" fill="#f0a040">2025/09/17 星期三</text>
<text x="34" y="832" font-size="13" font-weight="bold" fill="#ff7010">日线</text>
<path d="M64 832 L69 823 L74 832 Z" fill="#ff7010"/>
<text x="1219" y="827" font-size="31" fill="#dde6f0" letter-spacing="1.6">FX678</text>
</svg>
<div style="position:absolute;left:20px;top:836px;width:1115px;height:16px;background:#1f1f1f"></div>
<div class="tab" style="left:20px;width:38px;top:837px;height:15px;color:#f4f4f4;font-family:'Liberation Sans',sans-serif;font-size:12.5px;line-height:15px">指标</div>
<div class="tab" style="left:60px;width:38px;top:837px;height:15px;color:#f4f4f4;font-family:'Liberation Sans',sans-serif;font-size:12.5px;line-height:15px">模板</div>
<div class="tab" style="left:100px;width:57px;top:837px;height:15px;background:#ff6600;color:#fff;font-family:'Liberation Sans',sans-serif;font-size:12.5px;line-height:15px">VIP指标</div>
<div class="tab" style="left:158px;width:75px;top:837px;height:15px;line-height:15px">BARUPDN_UD</div>
<div class="tab" style="left:234px;width:57px;top:837px;height:15px;line-height:15px">BIAS_UD</div>
<div class="tab" style="left:292px;width:57px;top:837px;height:15px;line-height:15px">BOLL_UD</div>
<div class="tab" style="left:350px;width:51px;top:837px;height:15px;line-height:15px">CCI_UD</div>
<div class="tab" style="left:402px;width:51px;top:837px;height:15px;line-height:15px">DMI_UD</div>
<div class="tab" style="left:454px;width:69px;top:837px;height:15px;line-height:15px">INSIDE_UD</div>
<div class="tab" style="left:524px;width:45px;top:837px;height:15px;line-height:15px">KD_UD</div>
<div class="tab" style="left:571px;width:50px;top:837px;height:15px;line-height:15px">KDJ_UD</div>
<div class="tab" style="left:622px;width:45px;top:837px;height:15px;line-height:15px">MA_UD</div>
<div class="tab" style="left:668px;width:56px;top:837px;height:15px;line-height:15px">MACD_UD</div>
<div class="tab" style="left:725px;width:51px;top:837px;height:15px;line-height:15px">MTM_UD</div>
<div class="tab" style="left:777px;width:76px;top:837px;height:15px;line-height:15px">OUTSIDE_UD</div>
<div class="tab" style="left:854px;width:51px;top:837px;height:15px;line-height:15px">PSY_UD</div>
<div class="tab" style="left:906px;width:50px;top:837px;height:15px;line-height:15px">ROC_UD</div>
<div class="tab" style="left:957px;width:52px;top:837px;height:15px;line-height:15px">RSI_UD</div>
<div class="tab" style="left:1010px;width:51px;top:837px;height:15px;line-height:15px">SMA_UD</div>
<div class="tab" style="left:1062px;width:45px;top:837px;height:15px;line-height:15px">VR_UD</div>
<div class="tab" style="left:1108px;width:27px;top:837px;height:15px;line-height:15px">&gt;&gt;</div>
</body></html>
